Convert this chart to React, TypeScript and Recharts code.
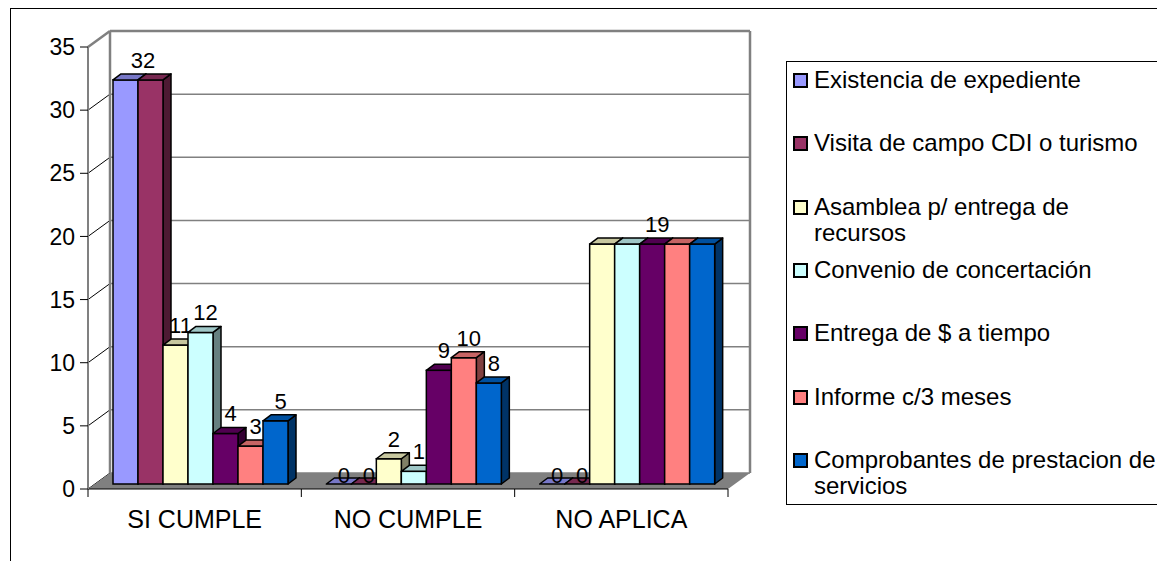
import React from 'react';
import { BarChart, Bar, XAxis, YAxis, CartesianGrid, LabelList, Legend } from 'recharts';

const FONT = '"Liberation Sans", Arial, sans-serif';

const categories = ['SI CUMPLE', 'NO CUMPLE', 'NO APLICA'];
const seriesNames = [
  'Existencia de expediente',
  'Visita de campo CDI o turismo',
  'Asamblea p/ entrega de recursos',
  'Convenio de concertación',
  'Entrega de $ a tiempo',
  'Informe c/3 meses',
  'Comprobantes de prestacion de servicios',
];
const existencia = [32, 0, 0];
const visita = [32, 0, 0];
const asamblea = [11, 2, 19];
const convenio = [12, 1, 19];
const entrega = [4, 9, 19];
const informe = [3, 10, 19];
const comprobantes = [5, 8, 19];
const yTicks = [0, 5, 10, 15, 20, 25, 30, 35];
const colors = ['#9999FF', '#993366', '#FFFFCC', '#CCFFFF', '#660066', '#FF8080', '#0066CC'];

const seriesValues = [existencia, visita, asamblea, convenio, entrega, informe, comprobantes];
const keys = seriesValues.map((_, i) => `s${i}`);
const data = categories.map((name, ci) => {
  const row: Record<string, any> = { name };
  seriesValues.forEach((vals, si) => (row[keys[si]] = vals[ci]));
  return row;
});

// 3D offsets
const WALL_X = 22;
const WALL_Y = -16;
const BAR_DX = 6;
const BAR_DY = -5;
const DEPTH_X = 8;
const DEPTH_Y = -6;

function shade(hex: string, f: number) {
  const n = parseInt(hex.slice(1), 16);
  const r = Math.round(((n >> 16) & 255) * f);
  const g = Math.round(((n >> 8) & 255) * f);
  const b = Math.round((n & 255) * f);
  return `rgb(${r},${g},${b})`;
}

const makeShape = (color: string) => (props: any) => {
  const { x, y, width, height } = props;
  if (x == null || y == null) return <g />;
  const h = Math.max(0, height || 0);
  const fx = x + BAR_DX;
  const fy = y + BAR_DY;
  const top = `${fx},${fy} ${fx + width},${fy} ${fx + width + DEPTH_X},${fy + DEPTH_Y} ${fx + DEPTH_X},${fy + DEPTH_Y}`;
  const side = `${fx + width},${fy} ${fx + width + DEPTH_X},${fy + DEPTH_Y} ${fx + width + DEPTH_X},${fy + h + DEPTH_Y} ${fx + width},${fy + h}`;
  return (
    <g>
      <polygon points={side} fill={shade(color, 0.5)} stroke="#000" strokeWidth={1.5} strokeLinejoin="round" />
      {h > 0 && <rect x={fx} y={fy} width={width} height={h} fill={color} stroke="#000" strokeWidth={1.5} />}
      <polygon points={top} fill={shade(color, 0.78)} stroke="#000" strokeWidth={1.5} strokeLinejoin="round" />
    </g>
  );
};

const makeLabel = (si: number) => (props: any) => {
  const vb = props.viewBox && props.viewBox.x != null ? props.viewBox : props;
  const { x, y, width } = vb;
  const index = props.index;
  if (x == null || index == null) return null;
  const vals = seriesValues.map((s) => s[index]);
  const v = vals[si];
  if (v > 0 && si > 0 && vals[si - 1] === v) return null;
  let run = 1;
  if (v > 0) {
    while (si + run < vals.length && vals[si + run] === v) run++;
  }
  const cx = x + BAR_DX + (width * run) / 2 + 5;
  const by = y + BAR_DY - (v > 0 ? 12 : 1);
  return (
    <text key={`lab-${si}-${index}`} x={cx} y={by} textAnchor="middle" fontSize={22} fontFamily={FONT} fill="#000">
      {v}
    </text>
  );
};

const renderH = (props: any) => {
  const { x1, y1, x2, index } = props;
  const pts: number[] = props.horizontalPoints || [];
  const top = props.y != null ? props.y : Math.min(...pts);
  const isTop = Math.abs(y1 - top) < 0.5;
  return (
    <g key={`h-${index}`}>
      <line x1={x1 + WALL_X} y1={y1 + WALL_Y} x2={x2 + WALL_X} y2={y1 + WALL_Y} stroke="#808080" strokeWidth={isTop ? 2.5 : 1.5} />
      <line x1={x1} y1={y1} x2={x1 + WALL_X} y2={y1 + WALL_Y} stroke={isTop ? '#808080' : '#000'} strokeWidth={isTop ? 2.5 : 1} />
    </g>
  );
};

const renderV = (props: any) => {
  const { index, y1, y2 } = props;
  if (index !== 0) return <g key={`v-${index}`} />;
  const L = props.x;
  const R = props.x + props.width;
  const T = y1;
  const B = y2;
  const floor = `${L},${B} ${R},${B} ${R + WALL_X},${B + WALL_Y} ${L + WALL_X},${B + WALL_Y}`;
  return (
    <g key={`v-${index}`}>
      <polygon points={floor} fill="#808080" stroke="none" />
      <line x1={L + WALL_X} y1={T + WALL_Y} x2={L + WALL_X} y2={B + WALL_Y} stroke="#808080" strokeWidth={2.5} />
      <line x1={R + WALL_X} y1={T + WALL_Y} x2={R + WALL_X} y2={B + WALL_Y} stroke="#808080" strokeWidth={2.5} />
    </g>
  );
};

const CatTick = (props: any) => {
  const { x, y, payload, index } = props;
  const half = payload && payload.offset ? payload.offset : (props.width || 640) / categories.length / 2;
  const axisY = y - 21;
  return (
    <g>
      <line x1={x - half} y1={axisY} x2={x - half} y2={axisY + 8} stroke="#000" />
      {index === categories.length - 1 && <line x1={x + half} y1={axisY} x2={x + half} y2={axisY + 8} stroke="#000" />}
      <text x={x} y={y} dy="0.71em" textAnchor="middle" fontSize={25} fontFamily={FONT} fill="#000">
        {payload.value}
      </text>
    </g>
  );
};

const LegendBox = () => (
  <div
    style={{
      width: 376,
      height: 444,
      border: '1px solid #000',
      background: '#fff',
      boxSizing: 'border-box',
      position: 'relative',
      fontFamily: FONT,
      fontSize: 24,
      color: '#000',
    }}
  >
    {seriesNames.map((n, i) => (
      <div key={n} style={{ position: 'absolute', left: 6, top: 5 + i * 63.33, display: 'flex', alignItems: 'flex-start' }}>
        <span
          style={{
            display: 'inline-block',
            width: 15,
            height: 15,
            border: '2px solid #000',
            background: colors[i],
            boxSizing: 'border-box',
            marginTop: 6,
            marginRight: 6,
            flex: 'none',
          }}
        />
        <span style={{ lineHeight: '26px', width: 350, display: 'inline-block' }}>{n}</span>
      </div>
    ))}
  </div>
);

export default function App() {
  return (
    <div style={{ position: 'relative', width: 1157, height: 553, overflow: 'hidden', fontFamily: FONT }}>
      <div
        style={{
          position: 'absolute',
          left: 2,
          top: 0,
          width: 2000,
          height: 2000,
          borderTop: '1px solid #000',
          borderLeft: '1px solid #000',
        }}
      />
      <div style={{ position: 'absolute', left: 0, top: 0 }}>
        <BarChart
          width={1157}
          height={553}
          data={data}
          margin={{ top: 39, right: 437, bottom: 22, left: 20 }}
          barCategoryGap={19}
          barGap={0}
        >
          <CartesianGrid horizontal={renderH} vertical={renderV} stroke="#808080" />
          <XAxis
            dataKey="name"
            height={50}
            axisLine={{ stroke: '#000', strokeWidth: 1 }}
            tickLine={false}
            tickSize={8}
            tickMargin={13}
            tick={CatTick}
            interval={0}
          />
          <YAxis
            width={60}
            domain={[0, 35]}
            ticks={yTicks}
            interval={0}
            tickSize={8}
            tickMargin={5}
            axisLine={{ stroke: '#808080', strokeWidth: 2 }}
            tickLine={{ stroke: '#000', strokeWidth: 1 }}
            tick={{ fontSize: 23, fill: '#000', fontFamily: FONT }}
          />
          <Legend
            layout="vertical"
            align="center"
            verticalAlign="middle"
            wrapperStyle={{ left: 778, top: 53, width: 376, height: 444 }}
            content={LegendBox}
          />
          {keys.map((k, i) => (
            <Bar key={k} dataKey={k} name={seriesNames[i]} fill={colors[i]} isAnimationActive={false} shape={makeShape(colors[i])}>
              <LabelList dataKey={k} content={makeLabel(i)} />
            </Bar>
          ))}
        </BarChart>
      </div>
    </div>
  );
}
